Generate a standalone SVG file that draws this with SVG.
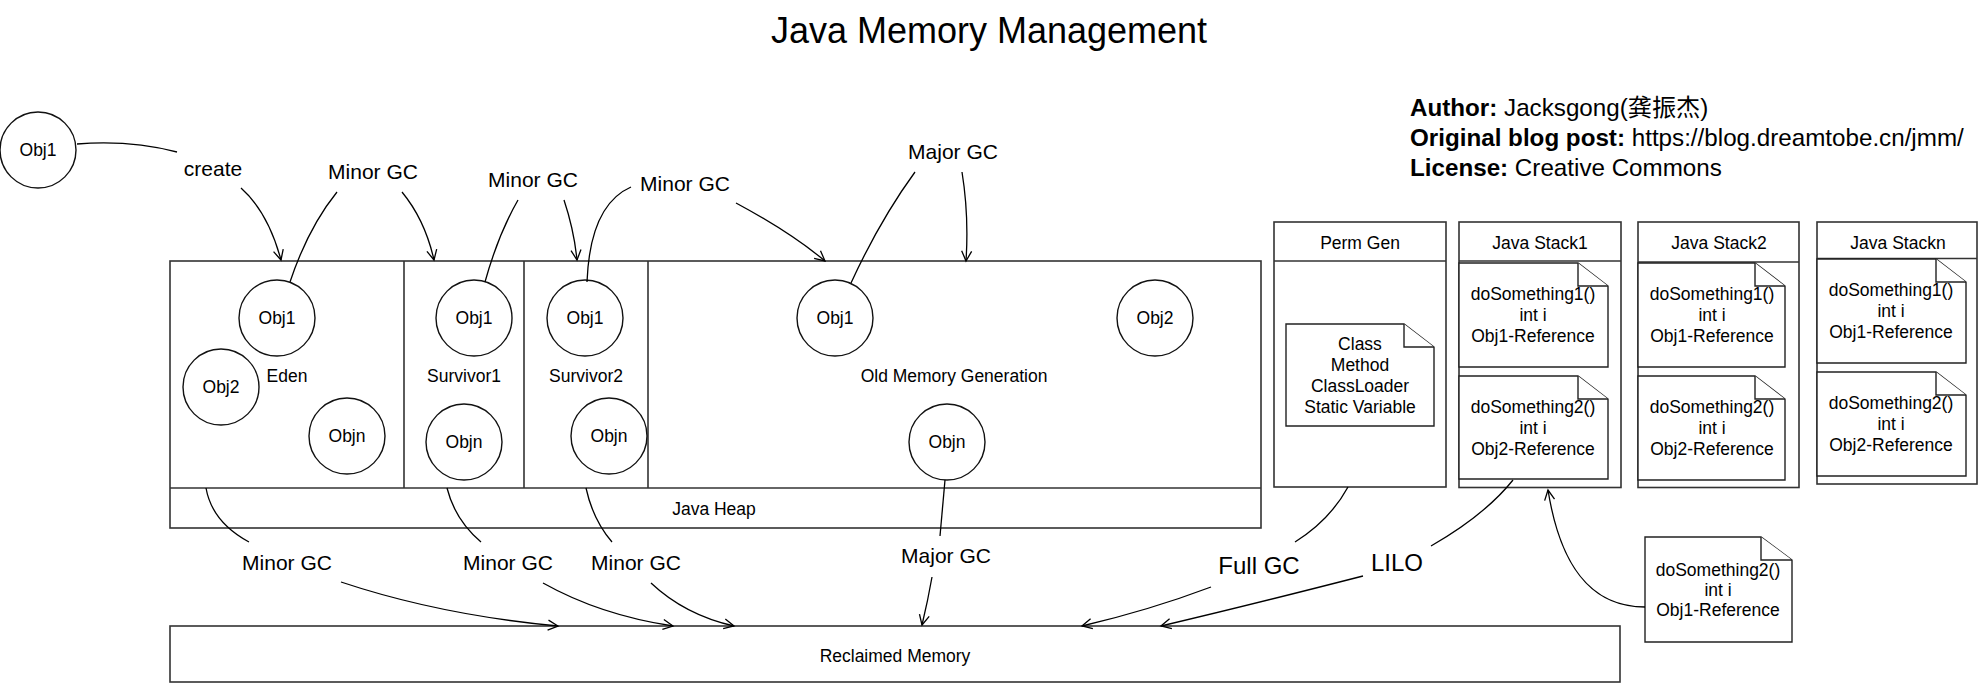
<svg xmlns="http://www.w3.org/2000/svg" width="1979" height="684" viewBox="0 0 1979 684">
<defs>
<marker id="arr" markerUnits="userSpaceOnUse" markerWidth="14" markerHeight="14" viewBox="0 0 14 14" refX="12" refY="7" orient="auto">
<path d="M2,2 L12,7 L2,12" fill="none" stroke="#000" stroke-width="1.3"/>
</marker>
</defs>
<style>
text{font-family:"Liberation Sans",Arial,Helvetica,"Noto Sans CJK SC",sans-serif;fill:#000}
.box{fill:#fff;stroke:#333;stroke-width:1.6}
.circ{fill:#fff;stroke:#111;stroke-width:1.4}
.note{fill:#fff;stroke:#222;stroke-width:1.4}
.lbl{font-size:17.5px;text-anchor:middle}
.gc{font-size:21px;text-anchor:middle}
.big{font-size:24px;text-anchor:middle}
.c{fill:none;stroke:#000;stroke-width:1.3}
.a{fill:none;stroke:#000;stroke-width:1.3;marker-end:url(#arr)}
</style>
<rect width="1979" height="684" fill="#fff"/>
<text x="989" y="43" style="font-size:36px" text-anchor="middle">Java Memory Management</text>
<g id="info" style="font-size:24.2px">
<text x="1410" y="116"><tspan font-weight="bold">Author:</tspan> Jacksgong(龚振杰)</text>
<text x="1410" y="146"><tspan font-weight="bold">Original blog post:</tspan> https://blog.dreamtobe.cn/jmm/</text>
<text x="1410" y="176"><tspan font-weight="bold">License:</tspan> Creative Commons</text>
</g>

<g id="heap">
<rect class="box" x="170" y="261" width="1091" height="267"/>
<line x1="170" y1="488" x2="1261" y2="488" stroke="#333" stroke-width="1.6"/>
<line x1="404" y1="261" x2="404" y2="488" stroke="#333" stroke-width="1.6"/>
<line x1="524" y1="261" x2="524" y2="488" stroke="#333" stroke-width="1.6"/>
<line x1="648" y1="261" x2="648" y2="488" stroke="#333" stroke-width="1.6"/>
<text class="lbl" x="714" y="515">Java Heap</text>
</g>
<g id="eden">
<text class="lbl" x="287" y="382">Eden</text>
</g>
<g id="survivor1"><text class="lbl" x="464" y="382">Survivor1</text></g>
<g id="survivor2"><text class="lbl" x="586" y="382">Survivor2</text></g>
<g id="old"><text class="lbl" x="954" y="382">Old Memory Generation</text></g>

<g id="obj1-new"><circle class="circ" cx="38" cy="150" r="38"/><text class="lbl" x="38" y="156">Obj1</text></g>
<g id="eden-obj1"><circle class="circ" cx="277" cy="318" r="38"/><text class="lbl" x="277" y="324">Obj1</text></g>
<g id="eden-obj2"><circle class="circ" cx="221" cy="387" r="38"/><text class="lbl" x="221" y="393">Obj2</text></g>
<g id="eden-objn"><circle class="circ" cx="347" cy="436" r="38"/><text class="lbl" x="347" y="442">Objn</text></g>
<g id="s1-obj1"><circle class="circ" cx="474" cy="318" r="38"/><text class="lbl" x="474" y="324">Obj1</text></g>
<g id="s1-objn"><circle class="circ" cx="464" cy="442" r="38"/><text class="lbl" x="464" y="448">Objn</text></g>
<g id="s2-obj1"><circle class="circ" cx="585" cy="318" r="38"/><text class="lbl" x="585" y="324">Obj1</text></g>
<g id="s2-objn"><circle class="circ" cx="609" cy="436" r="38"/><text class="lbl" x="609" y="442">Objn</text></g>
<g id="old-obj1"><circle class="circ" cx="835" cy="318" r="38"/><text class="lbl" x="835" y="324">Obj1</text></g>
<g id="old-obj2"><circle class="circ" cx="1155" cy="318" r="38"/><text class="lbl" x="1155" y="324">Obj2</text></g>
<g id="old-objn"><circle class="circ" cx="947" cy="442" r="38"/><text class="lbl" x="947" y="448">Objn</text></g>

<g id="reclaimed">
<rect class="box" x="170" y="626" width="1450" height="56"/>
<text class="lbl" x="895" y="662">Reclaimed Memory</text>
</g>

<g id="permgen">
<rect class="box" x="1274" y="222" width="172" height="265"/>
<line x1="1274" y1="261" x2="1446" y2="261" stroke="#333" stroke-width="1.6"/>
<text class="lbl" x="1360" y="249">Perm Gen</text>
<path class="note" d="M1286,324 H1404 L1434,347 V426 H1286 Z"/>
<path class="note" d="M1404,324 V347 H1434"/>
<text class="lbl" x="1360" y="350">Class</text>
<text class="lbl" x="1360" y="371">Method</text>
<text class="lbl" x="1360" y="392">ClassLoader</text>
<text class="lbl" x="1360" y="413">Static Variable</text>
</g>

<g id="stack1">
<rect class="box" x="1459" y="222" width="162" height="265.5"/>
<line x1="1459" y1="261" x2="1621" y2="261" stroke="#333" stroke-width="1.6"/>
<text class="lbl" x="1540" y="249">Java Stack1</text>
<path class="note" d="M1459,263 H1578 L1608,286 V367 H1459 Z"/>
<path class="note" d="M1578,263 V286 H1608"/>
<text class="lbl" x="1533" y="300">doSomething1()</text>
<text class="lbl" x="1533" y="321">int i</text>
<text class="lbl" x="1533" y="342">Obj1-Reference</text>
<path class="note" d="M1459,376 H1578 L1608,399 V479 H1459 Z"/>
<path class="note" d="M1578,376 V399 H1608"/>
<text class="lbl" x="1533" y="413">doSomething2()</text>
<text class="lbl" x="1533" y="434">int i</text>
<text class="lbl" x="1533" y="455">Obj2-Reference</text>
</g>

<g id="stack2">
<rect class="box" x="1638" y="222" width="161" height="265.5"/>
<line x1="1638" y1="262" x2="1799" y2="262" stroke="#333" stroke-width="1.6"/>
<text class="lbl" x="1719" y="249">Java Stack2</text>
<path class="note" d="M1638,263 H1755 L1785,286 V367 H1638 Z"/>
<path class="note" d="M1755,263 V286 H1785"/>
<text class="lbl" x="1712" y="300">doSomething1()</text>
<text class="lbl" x="1712" y="321">int i</text>
<text class="lbl" x="1712" y="342">Obj1-Reference</text>
<path class="note" d="M1638,376 H1755 L1785,399 V480 H1638 Z"/>
<path class="note" d="M1755,376 V399 H1785"/>
<text class="lbl" x="1712" y="413">doSomething2()</text>
<text class="lbl" x="1712" y="434">int i</text>
<text class="lbl" x="1712" y="455">Obj2-Reference</text>
</g>

<g id="stackn">
<rect class="box" x="1817" y="222" width="160" height="262"/>
<line x1="1817" y1="258.5" x2="1977" y2="258.5" stroke="#333" stroke-width="1.6"/>
<text class="lbl" x="1898" y="249">Java Stackn</text>
<path class="note" d="M1817,259 H1936 L1966,282 V363 H1817 Z"/>
<path class="note" d="M1936,259 V282 H1966"/>
<text class="lbl" x="1891" y="296">doSomething1()</text>
<text class="lbl" x="1891" y="317">int i</text>
<text class="lbl" x="1891" y="338">Obj1-Reference</text>
<path class="note" d="M1817,372 H1936 L1966,395 V476 H1817 Z"/>
<path class="note" d="M1936,372 V395 H1966"/>
<text class="lbl" x="1891" y="409">doSomething2()</text>
<text class="lbl" x="1891" y="430">int i</text>
<text class="lbl" x="1891" y="451">Obj2-Reference</text>
</g>

<g id="frame-note">
<path class="note" d="M1645,537 H1761 L1792,560 V642 H1645 Z"/>
<path class="note" d="M1761,537 V560 H1792"/>
<text class="lbl" x="1718" y="576">doSomething2()</text>
<text class="lbl" x="1718" y="596">int i</text>
<text class="lbl" x="1718" y="616">Obj1-Reference</text>
</g>

<g id="connectors">
<path class="c" d="M77,144 C115,141 150,145 177,152"/>
<path class="a" d="M241,188 Q268,212 281,260"/>
<path class="c" d="M290,282 Q308,228 337,192"/>
<path class="a" d="M402,192 Q425,220 434,260"/>
<path class="c" d="M485,282 Q498,235 518,200"/>
<path class="a" d="M564,200 Q574,230 577,260"/>
<path class="c" d="M587,282 Q590,205 631,187"/>
<path class="a" d="M736,203 Q790,232 825,261"/>
<path class="c" d="M851,283 Q880,220 915,172"/>
<path class="a" d="M962,172 Q969,215 966,261"/>

<path class="c" d="M206,488 Q212,522 249,542"/>
<path class="c" d="M447,488 Q455,520 481,542"/>
<path class="c" d="M586,488 Q593,520 612,542"/>
<path class="c" d="M945,480 L940,536"/>
<path class="c" d="M1348,487 Q1330,520 1295,542"/>
<path class="c" d="M1513,480 Q1485,515 1431,546"/>

<path class="a" d="M341,582 Q440,615 558,626"/>
<path class="a" d="M543,583 Q600,615 673,626"/>
<path class="a" d="M651,583 Q685,615 734,626"/>
<path class="a" d="M932,577 Q928,600 922,625"/>
<path class="a" d="M1211,587 Q1150,610 1082,626"/>
<path class="a" d="M1363,576 Q1250,605 1161,626"/>
<path class="a" d="M1645,607 C1590,607 1560,565 1548,490"/>
</g>

<g id="labels">
<text class="gc" x="213" y="176">create</text>
<text class="gc" x="373" y="179">Minor GC</text>
<text class="gc" x="533" y="187">Minor GC</text>
<text class="gc" x="685" y="191">Minor GC</text>
<text class="gc" x="953" y="159">Major GC</text>
<text class="gc" x="287" y="570">Minor GC</text>
<text class="gc" x="508" y="570">Minor GC</text>
<text class="gc" x="636" y="570">Minor GC</text>
<text class="gc" x="946" y="563">Major GC</text>
<text class="big" x="1259" y="574">Full GC</text>
<text class="big" x="1397" y="571">LILO</text>
</g>
</svg>
